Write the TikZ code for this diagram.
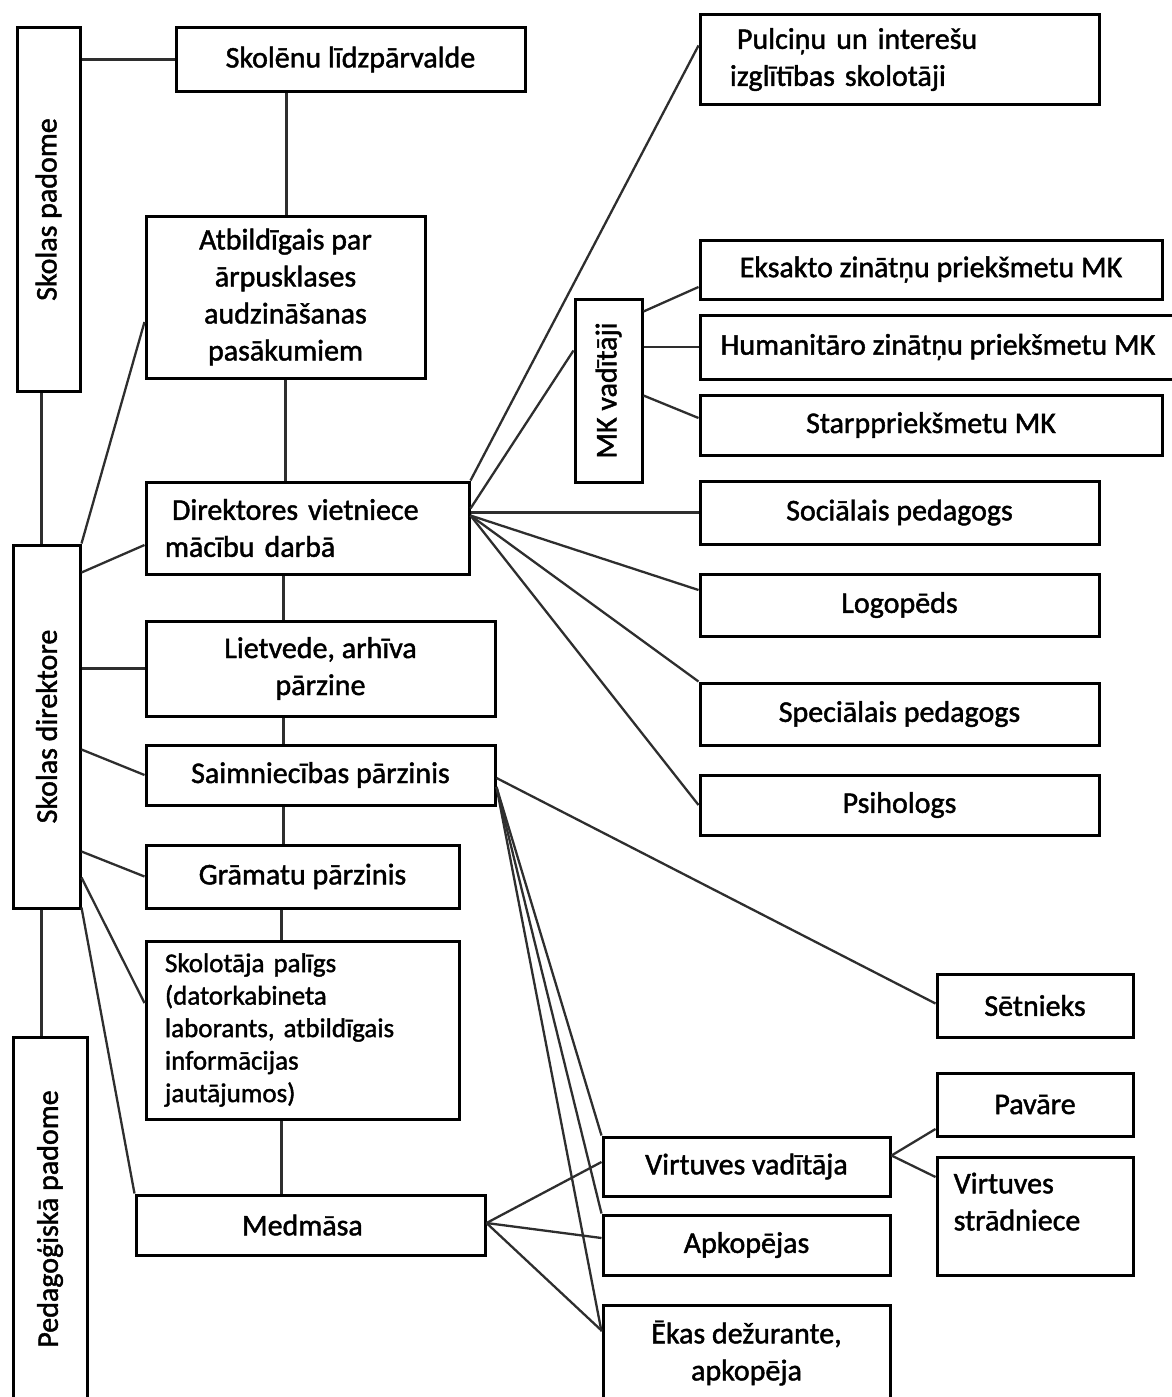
\documentclass[tikz,border=0pt]{standalone}
\usepackage{fontspec}
\setmainfont{Carlito}[FakeBold=1.5]
\usetikzlibrary{calc}
\begin{document}
\begin{tikzpicture}[x=1pt,y=-1pt,
  box/.style={draw=black, line width=3pt, rectangle, inner sep=0pt,
    font=\fontsize{30}{37}\selectfont, align=center},
  smalltxt/.style={font=\fontsize{27}{32.5}\selectfont},
  txt/.style={inner sep=0pt, font=\fontsize{30}{37}\selectfont, align=left},
  conn/.style={line width=2.3pt, draw=black!82},
]
\useasboundingbox (0,0) rectangle (1171,1397);

% ---- left column: vertical boards
\node[box, minimum width=63pt, minimum height=363pt] (padome) at (48.5,209.5) {\rotatebox{90}{Skolas padome}};
\node[box, minimum width=67pt, minimum height=363pt] (direktore) at (46.5,726.5) {\rotatebox{90}{Skolas direktore}};
\node[box, minimum width=74pt, minimum height=364pt] (pedpad) at (50,1219) {\rotatebox{90}{Pedagoģiskā padome}};

% ---- middle column
\node[box, minimum width=349pt, minimum height=63pt] (lidz) at (350.5,59.5) {Skolēnu līdzpārvalde};
\node[box, minimum width=279pt, minimum height=162pt] (atb) at (285.5,297) {Atbildīgais par\\ārpusklases\\audzināšanas\\pasākumiem};
\node[box, minimum width=323pt, minimum height=92pt, align=left, text width=285pt, inner xsep=19pt] (dir) at (307.5,528) {\hspace*{7pt}Direktores vietniece\\mācību darbā};
\node[box, minimum width=349pt, minimum height=95pt] (liet) at (320.5,668.5) {Lietvede, arhīva\\pārzine};
\node[box, minimum width=349pt, minimum height=60pt] (saim) at (320.5,775) {Saimniecības pārzinis};
\node[box, minimum width=313pt, minimum height=63pt] (gram) at (302.5,876.5) {Grāmatu pārzinis};
\node[box, smalltxt, minimum width=313pt, minimum height=178pt, align=left, text width=275pt, inner xsep=19pt] (skpal) at (302.5,1030) {Skolotāja palīgs\\(datorkabineta\\laborants, atbildīgais\\informācijas\\jautājumos)};
\node[box, minimum width=349pt, minimum height=60pt, align=left, text width=243pt, inner xsep=53pt] (med) at (310.5,1225) {\hspace*{53pt}Medmāsa};

% ---- MK
\node[box, minimum width=67pt, minimum height=183pt] (mk) at (608.5,390.5) {\rotatebox{90}{MK vadītāji}};

% ---- right column
\node[box, minimum width=399pt, minimum height=89pt, align=left, text width=339pt, inner xsep=30pt] (pulc) at (899.5,59.5) {\hspace*{7pt}Pulciņu un interešu\\izglītības skolotāji};
\node[box, minimum width=462pt, minimum height=59pt] (eks) at (931,269.5) {Eksakto zinātņu priekšmetu MK};
\node[box, minimum width=476pt, minimum height=64pt] (hum) at (938,347) {Humanitāro zinātņu priekšmetu MK};
\node[box, minimum width=462pt, minimum height=60pt] (starp) at (931,425) {Starppriekšmetu MK};
\node[box, minimum width=399pt, minimum height=63pt] (soc) at (899.5,512.5) {Sociālais pedagogs};
\node[box, minimum width=399pt, minimum height=62pt] (logo) at (899.5,605) {Logopēds};
\node[box, minimum width=399pt, minimum height=62pt] (spec) at (899.5,714) {Speciālais pedagogs};
\node[box, minimum width=399pt, minimum height=60pt] (psih) at (899.5,805) {Psihologs};
\node[box, minimum width=196pt, minimum height=63pt] (set) at (1035,1005.5) {Sētnieks};
\node[box, minimum width=196pt, minimum height=63pt] (pav) at (1035,1104.5) {Pavāre};
\node[box, minimum width=196pt, minimum height=118pt] (vstr) at (1035,1216) {};
\node[txt, anchor=north west] (vstrtxt) at ($(vstr.north west)+(18,17)$) {Virtuves\\strādniece};
\node[box, minimum width=287pt, minimum height=59pt] (vvad) at (746.5,1166.5) {Virtuves vadītāja};
\node[box, minimum width=287pt, minimum height=60pt] (apk) at (746.5,1245) {Apkopējas};
\node[box, minimum width=287pt, minimum height=96pt] (ekas) at (746.5,1353) {Ēkas dežurante,\\apkopēja};

% ---- vertical chain of left boards
\draw[conn] ($(padome.south west)+(26,0)$) -- ($(direktore.north west)+(30,0)$);
\draw[conn] ($(direktore.south west)+(30,0)$) -- ($(pedpad.north west)+(30,0)$);
\draw[conn] (padome.east |- lidz.west) -- (lidz.west);

% ---- middle trunk
\draw[conn] ($(lidz.south west)+(112,0)$) -- ($(atb.north west)+(142,0)$);
\draw[conn] ($(atb.south west)+(141,0)$) -- ($(dir.north west)+(141,0)$);
\draw[conn] ($(dir.south west)+(139,0)$) -- ($(liet.north west)+(139,0)$);
\draw[conn] ($(liet.south west)+(139,0)$) -- ($(saim.north west)+(139,0)$);
\draw[conn] ($(saim.south west)+(139,0)$) -- ($(gram.north west)+(139,0)$);
\draw[conn] ($(gram.south west)+(137,0)$) -- ($(skpal.north west)+(137,0)$);
\draw[conn] ($(skpal.south west)+(137,0)$) -- ($(med.north west)+(147,0)$);

% ---- from Skolas direktore
\draw[conn] (direktore.north east) -- ($(atb.west)+(0,25)$);
\draw[conn] ($(direktore.north east)+(0,29)$) -- ($(dir.west)+(0,17)$);
\draw[conn] (liet.west -| direktore.east) -- (liet.west);
\draw[conn] ($(direktore.north east)+(0,206)$) -- (saim.west);
\draw[conn] ($(direktore.north east)+(0,308)$) -- (gram.west);
\draw[conn] ($(direktore.north east)+(0,334)$) -- ($(skpal.west)+(0,-27)$);
\draw[conn] ($(direktore.south east)+(0,-2)$) -- (med.north west);

% ---- from Direktores vietniece
\draw[conn] (dir.north east) -- ($(pulc.west)+(0,-14)$);
\draw[conn] ($(dir.north east)+(0,28)$) -- ($(mk.west)+(0,-40)$);
\draw[conn] (soc.west -| dir.east) -- (soc.west);
\draw[conn] ($(dir.north east)+(0,35)$) -- ($(logo.west)+(0,-15)$);
\draw[conn] ($(dir.north east)+(0,35)$) -- (spec.north west);
\draw[conn] ($(dir.north east)+(0,35)$) -- (psih.west);

% ---- from MK vadītāji
\draw[conn] ($(mk.north east)+(0,14)$) -- ($(eks.west)+(0,17.5)$);
\draw[conn] (hum.west -| mk.east) -- (hum.west);
\draw[conn] ($(mk.north east)+(0,98)$) -- ($(starp.west)+(0,-7)$);

% ---- from Saimniecības pārzinis
\draw[conn] ($(saim.east)+(0,3)$) -- ($(set.west)+(0,-2)$);
\draw[conn] ($(saim.east)+(0,12)$) -- (vvad.north west);
\draw[conn] ($(saim.east)+(0,12)$) -- (apk.north west);
\draw[conn] ($(saim.east)+(0,12)$) -- ($(ekas.north west)+(0,28)$);

% ---- from Medmāsa
\draw[conn] ($(med.east)+(0,-2)$) -- ($(vvad.west)+(0,-4.5)$);
\draw[conn] ($(med.east)+(0,-2)$) -- ($(apk.west)+(0,-7)$);
\draw[conn] ($(med.east)+(0,-2)$) -- ($(ekas.north west)+(0,27)$);

% ---- from Virtuves vadītāja
\draw[conn] ($(vvad.east)+(0,-11)$) -- ($(pav.west)+(0,24.5)$);
\draw[conn] ($(vvad.east)+(0,-11)$) -- ($(vstr.west)+(0,-39)$);
\end{tikzpicture}
\end{document}
